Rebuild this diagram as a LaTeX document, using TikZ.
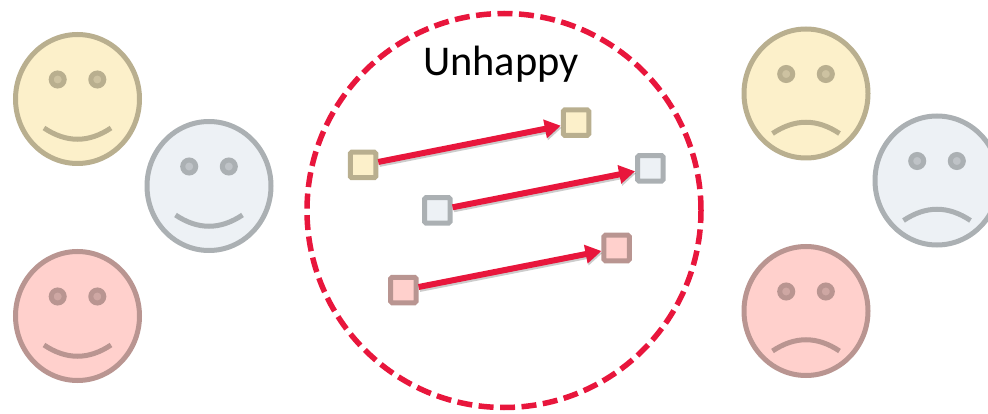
\documentclass[tikz,border=0pt]{standalone}
\usepackage{fontspec}
\setmainfont{Carlito}
\usetikzlibrary{arrows.meta}
\usetikzlibrary{shapes.geometric}

\definecolor{yellowfill}{HTML}{FCF0CA}
\definecolor{yellowline}{HTML}{B9AF8F}
\definecolor{bluefill}{HTML}{EDF1F5}
\definecolor{blueline}{HTML}{ABB0B3}
\definecolor{redfill}{HTML}{FFD0CC}
\definecolor{redline}{HTML}{B99591}
\definecolor{arrowred}{HTML}{E8163C}

\tikzset{
	facebody/.style={ellipse,inner sep=0pt,minimum width=124pt,minimum height=129pt,line width=5pt},
	faceeye/.style={circle,inner sep=0pt,minimum size=13pt,line width=5pt},
	facemouth/.style={line width=5pt},
	tinybox/.style={rectangle,rounded corners=1.5pt,inner sep=0pt,minimum size=25.5pt,line width=5pt},
	redarrow/.style={draw=arrowred,line width=6pt,-{Triangle[length=16pt,width=18pt]}},
	arrowshade/.style={draw=black,opacity=.2,line width=6pt,-{Triangle[length=16pt,width=18pt]},transform canvas={xshift=1pt,yshift=-2pt}}
}

\begin{document}
\begin{tikzpicture}[x=1pt,y=-1pt]
	\useasboundingbox (0,0) rectangle (988,414);

	% happy faces, left
	\foreach \fname/\fx/\fy/\fcol in {hy/77.5/99/yellow,hb/209/186/blue,hr/77.5/316/red}{
		\begin{scope}[shift={(\fx,\fy)}]
			\node[facebody,fill=\fcol fill,draw=\fcol line] (\fname) at (0,0) {};
			\node[faceeye,fill=\fcol line!70!\fcol fill,draw=\fcol line] (\fname l) at (-19.8,-19.5) {};
			\node[faceeye,fill=\fcol line!70!\fcol fill,draw=\fcol line] (\fname r) at (19.8,-19.5) {};
			\draw[facemouth,draw=\fcol line] (-33.5,29) .. controls (-11,44) and (11,44) .. (33.5,29);
		\end{scope}
	}

	% sad faces, right
	\foreach \fname/\fx/\fy/\fcol in {sy/806/93.5/yellow,sb/937/180.5/blue,sr/806/311/red}{
		\begin{scope}[shift={(\fx,\fy)}]
			\node[facebody,fill=\fcol fill,draw=\fcol line] (\fname) at (0,0) {};
			\node[faceeye,fill=\fcol line!70!\fcol fill,draw=\fcol line] (\fname l) at (-19.8,-19.5) {};
			\node[faceeye,fill=\fcol line!70!\fcol fill,draw=\fcol line] (\fname r) at (19.8,-19.5) {};
			\draw[facemouth,draw=\fcol line] (-33.5,40) .. controls (-11,25) and (11,25) .. (33.5,40);
		\end{scope}
	}

	% dashed ring
	\node[circle,inner sep=0pt,minimum size=394pt,draw=arrowred,line width=5.5pt,dash pattern=on 15pt off 6.5pt] (ring) at (504,210.5) {};
	\node[font=\fontsize{42.4}{42.4}\selectfont] (title) at (501,64) {Unhappy};

	% boxes and arrows
	\foreach \bname/\ax/\ay/\bx/\by/\fcol in {y/363/165/576/122.7/yellow,b/437.3/210.3/650.3/168.3/blue,r/403.3/290/616.7/248/red}{
		\node[tinybox,fill=\fcol fill,draw=\fcol line] (a\bname) at (\ax,\ay) {};
		\node[tinybox,fill=\fcol fill,draw=\fcol line] (b\bname) at (\bx,\by) {};
		\draw[arrowshade] (a\bname) -- (b\bname);
		\draw[redarrow] (a\bname) -- (b\bname);
	}
\end{tikzpicture}
\end{document}
